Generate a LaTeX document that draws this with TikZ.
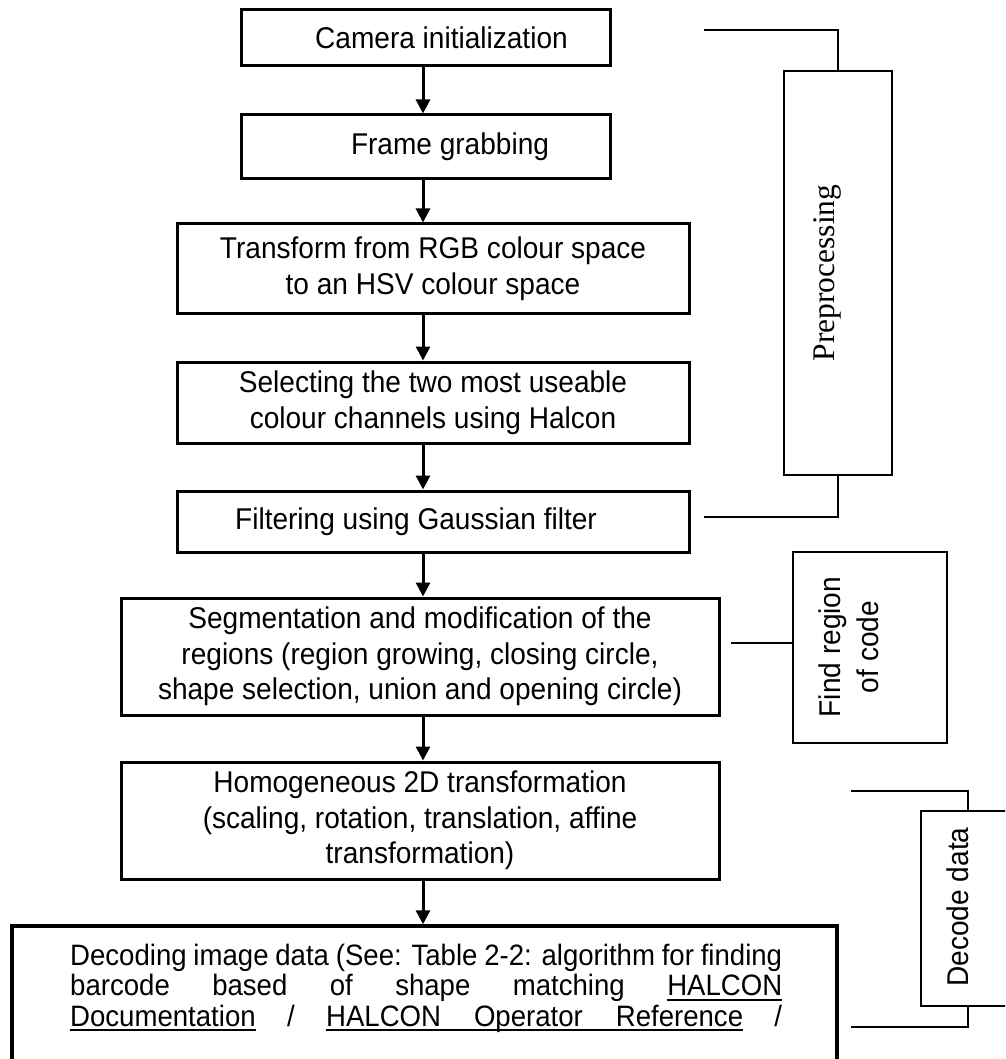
\documentclass[tikz,border=0pt]{standalone}
\usepackage{fontspec}
\setmainfont{Liberation Sans}[FakeStretch=0.935]
\newfontfamily\prefont{Liberation Serif}
\usetikzlibrary{arrows.meta}
% underline drawn as a rule a little below the baseline
\newcommand\uln[1]{\setbox0\hbox{#1}\rlap{\rule[-5pt]{\wd0}{1.8pt}}\box0\relax}
\begin{document}
\begin{tikzpicture}[x=1pt,y=-1pt,
  flow/.style={draw, line width=3pt, inner sep=0pt, align=center,
    font=\fontsize{30pt}{35.5pt}\selectfont},
  sidebox/.style={draw, line width=1.5pt, inner sep=0pt},
  link/.style={line width=1.5pt},
  arr/.style={line width=3pt, -{Triangle[width=14pt,length=14pt]}},
  sidetext/.style={rotate=90, inner sep=0pt, align=center,
    font=\fontsize{30pt}{38pt}\selectfont}]
\clip (0,0) rectangle (1005,1059);

% main flow
\node[flow, minimum width=369pt, minimum height=56pt] (cam) at (425.5,38)
  {\hspace*{32pt}Camera initialization};
\node[flow, minimum width=369pt, minimum height=64pt] (frame) at (425.5,147)
  {\hspace*{49pt}Frame grabbing};
\node[flow, minimum width=512pt, minimum height=89pt] (rgb) at (433,268.5)
  {Transform from RGB colour space\\to an HSV colour space};
\node[flow, minimum width=512pt, minimum height=81pt] (sel) at (433,402.5)
  {Selecting the two most useable\\colour channels using Halcon};
\node[flow, minimum width=512pt, minimum height=61pt] (filt) at (433,521.5)
  {Filtering using Gaussian filter\hspace*{34pt}};
\node[flow, minimum width=598pt, minimum height=117pt] (seg) at (420,656.5)
  {Segmentation and modification of the\\regions (region growing, closing circle,\\shape selection, union and opening circle)};
\node[flow, minimum width=598pt, minimum height=117pt] (homo) at (420,820.5)
  {Homogeneous 2D transformation\\(scaling, rotation, translation, affine\\transformation)};
\node[draw, line width=3.5pt, inner sep=0pt, minimum width=825pt, minimum height=194pt]
  (dec) at (424.5,1023) {};
\node[anchor=base west, inner sep=0pt] (dectext) at (70,965)
  {\fontsize{29.5pt}{30.5pt}\selectfont\lineskiplimit=-50pt
   \parbox[t]{712pt}{\lineskiplimit=-50pt
   \makebox[712pt][s]{Decoding image data (See: Table 2-2: algorithm for finding}\\
   \makebox[712pt][s]{barcode based of shape matching \uln{HALCON}}\\
   \makebox[712pt][s]{\uln{Documentation} / \uln{\makebox[417pt][s]{HALCON Operator Reference}} /}}};

% arrows between the steps
\coordinate (ax) at (423,0);
\draw[arr] (cam.south -| ax) -- (frame.north -| ax);
\draw[arr] (frame.south -| ax) -- (rgb.north -| ax);
\draw[arr] (rgb.south -| ax) -- (sel.north -| ax);
\draw[arr] (sel.south -| ax) -- (filt.north -| ax);
\draw[arr] (filt.south -| ax) -- (seg.north -| ax);
\draw[arr] (seg.south -| ax) -- (homo.north -| ax);
\draw[arr] (homo.south -| ax) -- (dec.north -| ax);

% stage labels on the right
\node[sidebox, minimum width=108pt, minimum height=404pt] (pre) at (838,273) {};
\node[sidetext, font=\prefont\fontsize{31.5pt}{38pt}\selectfont] (pretext) at (827,273) {Preprocessing};
\coordinate (pa) at (704,30);
\coordinate (pb) at (704,517);
\draw[link] (pa) -| (pre.north);
\draw[link] (pb) -| (pre.south);

\node[sidebox, minimum width=154pt, minimum height=191pt] (find) at (870,647.5) {};
\node[sidetext] (findtext) at (849,647) {Find region\\of code};
\coordinate (fa) at (731,643);
\draw[link] (fa) -- (fa -| find.west);

\node[sidebox, minimum width=94pt, minimum height=195pt] (dd) at (968,908.5) {};
\node[sidetext] (ddtext) at (958,907) {Decode data};
\coordinate (da) at (851,791);
\coordinate (db) at (851,1027);
\draw[link] (da) -| (dd.north);
\draw[link] (db) -| (dd.south);
\end{tikzpicture}
\end{document}
